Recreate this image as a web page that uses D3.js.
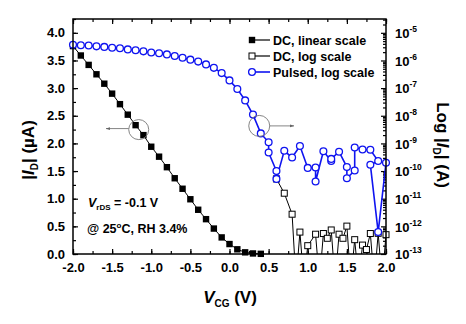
<!DOCTYPE html>
<html>
<head>
<meta charset="utf-8">
<script src="https://cdn.jsdelivr.net/npm/d3@7"></script>
<style>
body { margin: 0; background: #fff; }
svg text { font-family: "Liberation Sans", Arial, sans-serif; font-weight: bold; fill: #000; }
</style>
</head>
<body>
<div id="chart"></div>
<script>
const [WIDTH, HEIGHT] = [466, 324]
const MARGIN = { left: 73, right: 80, top: 19, bottom: 70 }

// DC, linear scale (uA)
const vcgLin = [-2.0, -1.9, -1.8, -1.7, -1.6, -1.5, -1.4, -1.3, -1.2, -1.1, -1.0, -0.9, -0.8,
    -0.7, -0.6, -0.5, -0.4, -0.3, -0.2, -0.1, 0.0, 0.1, 0.2, 0.3, 0.4]
const idLin = [3.76, 3.59, 3.42, 3.25, 3.08, 2.90, 2.71, 2.52, 2.33, 2.15, 1.94, 1.76, 1.57,
    1.37, 1.18, 0.99, 0.80, 0.63, 0.46, 0.30, 0.18, 0.085, 0.03, 0.01, 0.003]

// DC, log scale (A) -- 1e-14 means below the axis
const vcgDcLog = [0.6, 0.7, 0.8, 0.85, 0.9, 0.95, 1.0, 1.1, 1.15, 1.2, 1.25, 1.3, 1.35, 1.4,
    1.45, 1.5, 1.55, 1.6, 1.65, 1.7, 1.75, 1.8, 1.85, 1.9, 1.95, 2.0]
const idDcLog = [5.2e-11, 1.58e-11, 2.75e-12, 1e-14, 6.2e-13, 1e-14, 2.0e-13, 5.2e-13, 1e-14,
    5.5e-13, 3.7e-13, 7.4e-13, 1e-14, 5.2e-13, 3.7e-13, 1.02e-12, 1e-14, 3.3e-13, 1e-14,
    2.1e-13, 1.45e-13, 5.5e-13, 1e-14, 5.6e-13, 1e-14, 5e-13]

// Pulsed, log scale (A), in drawing order
const vcgPulsed = [-2.0, -1.9, -1.8, -1.7, -1.6, -1.5, -1.4, -1.3, -1.2, -1.1, -1.0, -0.9, -0.8,
    -0.7, -0.6, -0.5, -0.4, -0.3, -0.2, -0.1, 0.0, 0.1, 0.2, 0.3, 0.4,
    0.5, 0.5, 0.6, 0.6, 0.7, 0.8, 0.9, 1.0, 1.1, 1.1, 1.2, 1.3, 1.3, 1.4, 1.5, 1.5, 1.6, 1.6,
    1.7, 1.8, 1.9, 1.8, 1.9, 2.0]
const idPulsed = [3.72e-6, 3.55e-6, 3.47e-6, 3.24e-6, 3.09e-6, 2.88e-6, 2.75e-6, 2.51e-6,
    2.34e-6, 2.14e-6, 1.95e-6, 1.82e-6, 1.66e-6, 1.45e-6, 1.26e-6, 1.07e-6, 9.1e-7, 7.2e-7,
    5.4e-7, 3.5e-7, 1.9e-7, 9.3e-8, 3.6e-8, 1.1e-8, 2.3e-9,
    1.1e-9, 4.7e-10, 1.0e-10, 5.2e-11, 5.4e-10, 3.1e-10, 8.1e-10, 1.3e-10, 1.35e-10, 4.2e-11,
    5.2e-10, 2.3e-10, 2.75e-10, 5.0e-10, 1.4e-10, 5.5e-11, 1.05e-10, 7.1e-10, 6.0e-10,
    5.9e-10, 2.3e-10, 1.7e-10, 6.2e-13, 2.0e-10]

const xTicks = [-2.0, -1.5, -1.0, -0.5, 0.0, 0.5, 1.0, 1.5, 2.0]
const yLinTicks = [0.0, 0.5, 1.0, 1.5, 2.0, 2.5, 3.0, 3.5, 4.0]
const yLogExps = [-13, -12, -11, -10, -9, -8, -7, -6, -5]
const legendNames = ['DC, linear scale', 'DC, log scale', 'Pulsed, log scale']

const BLUE = '#0f14f0'

function main() {
    const svg = d3.select('#chart').append('svg')
        .attr('width', WIDTH)
        .attr('height', HEIGHT)

    const x0 = MARGIN.left, x1 = WIDTH - MARGIN.right
    const y0 = HEIGHT - MARGIN.bottom, y1 = MARGIN.top

    const x = d3.scaleLinear([-2, 2], [x0, x1])
    const yLin = d3.scaleLinear([0, 4.25], [y0, y1])
    const yLog = d3.scaleLog([1e-13, Math.pow(10, -4.5)], [y0, y1])

    svg.append('clipPath').attr('id', 'plot-clip')
        .append('rect').attr('x', x0).attr('y', y1).attr('width', x1 - x0).attr('height', y0 - y1)

    const fmt = d => d.toFixed(1)

    // minor ticks
    const xMinor = d3.range(-2, 2.001, 0.25)
    const yMinor = d3.range(0, 4.251, 0.25)
    const logMinor = []
    yLogExps.forEach(e => { for (let m = 2; m < 10; m++) { const v = m * Math.pow(10, e); if (v <= yLog.domain()[1]) logMinor.push(v) } })

    const axes = svg.append('g').attr('class', 'axes')
    const clean = g => g.call(g => g.select('.domain').remove())
        .call(g => g.selectAll('.tick line').attr('stroke', '#000').attr('stroke-width', 1.2))

    axes.append('g').attr('transform', `translate(0,${y0})`)
        .call(d3.axisBottom(x).tickValues(xMinor).tickSize(-3).tickFormat('')).call(clean)
    axes.append('g').attr('transform', `translate(0,${y1})`)
        .call(d3.axisTop(x).tickValues(xMinor).tickSize(-3).tickFormat('')).call(clean)
    axes.append('g').attr('transform', `translate(0,${y1})`)
        .call(d3.axisTop(x).tickValues(xTicks).tickSize(-5).tickFormat('')).call(clean)
    axes.append('g').attr('transform', `translate(${x0},0)`)
        .call(d3.axisLeft(yLin).tickValues(yMinor).tickSize(-3).tickFormat('')).call(clean)
    axes.append('g').attr('transform', `translate(${x1},0)`)
        .call(d3.axisRight(yLog).tickValues(logMinor).tickSize(-3).tickFormat('')).call(clean)

    const xAxis = axes.append('g').attr('transform', `translate(0,${y0})`)
        .call(d3.axisBottom(x).tickValues(xTicks).tickSize(-5).tickPadding(9).tickFormat(fmt)).call(clean)
    xAxis.selectAll('text').attr('font-size', 13).attr('font-family', null)

    const yAxis = axes.append('g').attr('transform', `translate(${x0},0)`)
        .call(d3.axisLeft(yLin).tickValues(yLinTicks).tickSize(-5).tickPadding(8).tickFormat(fmt)).call(clean)
    yAxis.selectAll('text').attr('font-size', 13).attr('font-family', null)

    const yAxisR = axes.append('g').attr('transform', `translate(${x1},0)`)
        .call(d3.axisRight(yLog).tickValues(yLogExps.map(e => Math.pow(10, e))).tickSize(-5).tickFormat('')).call(clean)
    yAxisR.selectAll('.tick').append('text')
        .attr('x', 9).attr('dy', '0.36em').attr('font-size', 13).attr('text-anchor', 'start')
        .each(function (d) {
            const t = d3.select(this)
            t.append('tspan').text('10')
            t.append('tspan').attr('dy', -6).attr('font-size', 8.5).text(Math.round(Math.log10(d)))
        })

    // data
    const plot = svg.append('g')
    const linLine = d3.line().x(d => x(d[0])).y(d => yLin(d[1]))
    const logLine = d3.line().x(d => x(d[0])).y(d => yLog(d[1]))

    const linData = d3.zip(vcgLin, idLin)
    const dcLogData = d3.zip(vcgDcLog, idDcLog)
    const pulsedData = d3.zip(vcgPulsed, idPulsed)

    plot.append('path').datum(linData).attr('d', linLine)
        .attr('fill', 'none').attr('stroke', '#000').attr('stroke-width', 1).attr('clip-path', 'url(#plot-clip)')
    plot.append('g').selectAll('rect').data(linData).join('rect')
        .attr('x', d => x(d[0]) - 3.2).attr('y', d => yLin(d[1]) - 3.2)
        .attr('width', 6.4).attr('height', 6.4).attr('fill', '#000')

    plot.append('path').datum(dcLogData).attr('d', logLine)
        .attr('fill', 'none').attr('stroke', '#000').attr('stroke-width', 1).attr('clip-path', 'url(#plot-clip)')
    plot.append('g').selectAll('rect').data(dcLogData.filter(d => d[1] >= 1e-13)).join('rect')
        .attr('x', d => x(d[0]) - 3).attr('y', d => yLog(d[1]) - 3)
        .attr('width', 6).attr('height', 6).attr('fill', '#fff').attr('stroke', '#000').attr('stroke-width', 1)

    plot.append('path').datum(pulsedData).attr('d', logLine)
        .attr('fill', 'none').attr('stroke', BLUE).attr('stroke-width', 1.6).attr('clip-path', 'url(#plot-clip)')
    plot.append('g').selectAll('circle').data(pulsedData).join('circle')
        .attr('cx', d => x(d[0])).attr('cy', d => yLog(d[1])).attr('r', 3.4)
        .attr('fill', '#fff').attr('stroke', BLUE).attr('stroke-width', 1.3)

    // frame
    svg.append('rect').attr('x', x0).attr('y', y1).attr('width', x1 - x0).attr('height', y0 - y1)
        .attr('fill', 'none').attr('stroke', '#000').attr('stroke-width', 1.5)

    // legend
    const legend = svg.append('g').attr('transform', 'translate(252,40)')
    legendNames.forEach((name, i) => {
        const row = legend.append('g').attr('transform', `translate(0,${i * 16})`)
        const col = i === 2 ? BLUE : '#000'
        row.append('line').attr('x1', 0).attr('x2', 18).attr('stroke', col).attr('stroke-width', i === 2 ? 1.6 : 1.2)
        if (i === 0) row.append('rect').attr('x', -3.2).attr('y', -3.2).attr('width', 6.4).attr('height', 6.4).attr('fill', '#000')
        if (i === 1) row.append('rect').attr('x', -3).attr('y', -3).attr('width', 6).attr('height', 6).attr('fill', '#fff').attr('stroke', '#000')
        if (i === 2) row.append('circle').attr('r', 3.4).attr('fill', '#fff').attr('stroke', BLUE).attr('stroke-width', 1.3)
        row.append('text').attr('x', 21).attr('y', 4.5).attr('font-size', 12.5).text(name)
    })

    // annotation circles and arrows
    svg.append('defs').append('marker').attr('id', 'arr')
        .attr('viewBox', '0 0 10 10').attr('refX', 9).attr('refY', 5)
        .attr('markerWidth', 5).attr('markerHeight', 5).attr('orient', 'auto')
        .append('path').attr('d', 'M0,2 L10,5 L0,8 Z').attr('fill', '#666')
    const ann = svg.append('g').attr('stroke', '#777').attr('fill', 'none').attr('stroke-width', 0.9)
    ann.append('circle').attr('cx', x(-1.16)).attr('cy', yLin(2.25)).attr('r', 10)
    ann.append('line').attr('x1', x(-1.16) - 10).attr('x2', 106).attr('y1', yLin(2.25) - 1).attr('y2', yLin(2.25) - 1)
        .attr('marker-end', 'url(#arr)')
    ann.append('circle').attr('cx', x(0.38)).attr('cy', yLog(4.3e-9)).attr('r', 10.5)
    ann.append('line').attr('x1', x(0.38) + 10.5).attr('x2', 294).attr('y1', yLog(4.3e-9)).attr('y2', yLog(4.3e-9))
        .attr('marker-end', 'url(#arr)')

    // conditions
    const t1 = svg.append('text').attr('x', 88).attr('y', 207).attr('font-size', 12.5)
    t1.append('tspan').attr('font-style', 'italic').text('V')
    t1.append('tspan').attr('font-size', 8).attr('dy', 3).text('rDS')
    t1.append('tspan').attr('dy', -3).text(' = -0.1 V')
    const t2 = svg.append('text').attr('x', 87).attr('y', 233).attr('font-size', 12.5)
    t2.append('tspan').text('@ 25')
    t2.append('tspan').attr('font-size', 8).attr('dy', -5).text('o')
    t2.append('tspan').attr('dy', 5).text('C, RH 3.4%')

    // axis titles
    const xt = svg.append('text').attr('x', 230).attr('y', 303).attr('text-anchor', 'middle').attr('font-size', 17)
    xt.append('tspan').attr('font-style', 'italic').text('V')
    xt.append('tspan').attr('font-size', 10).attr('dy', 4).text('CG')
    xt.append('tspan').attr('dy', -4).text(' (V)')

    const ylt = svg.append('text').attr('transform', 'translate(34,150) rotate(-90)')
        .attr('text-anchor', 'middle').attr('font-size', 17)
    ylt.append('tspan').text('|')
    ylt.append('tspan').attr('font-style', 'italic').text('I')
    ylt.append('tspan').attr('font-size', 10).attr('dy', 4).text('D')
    ylt.append('tspan').attr('dy', -4).text('| (\u00b5A)')

    const yrt = svg.append('text').attr('transform', 'translate(437,145) rotate(90)')
        .attr('text-anchor', 'middle').attr('font-size', 17)
    yrt.append('tspan').text('Log |')
    yrt.append('tspan').attr('font-style', 'italic').text('I')
    yrt.append('tspan').attr('font-size', 10).attr('dy', 4).text('D')
    yrt.append('tspan').attr('dy', -4).text('| (A)')
}

main()
</script>
</body>
</html>
